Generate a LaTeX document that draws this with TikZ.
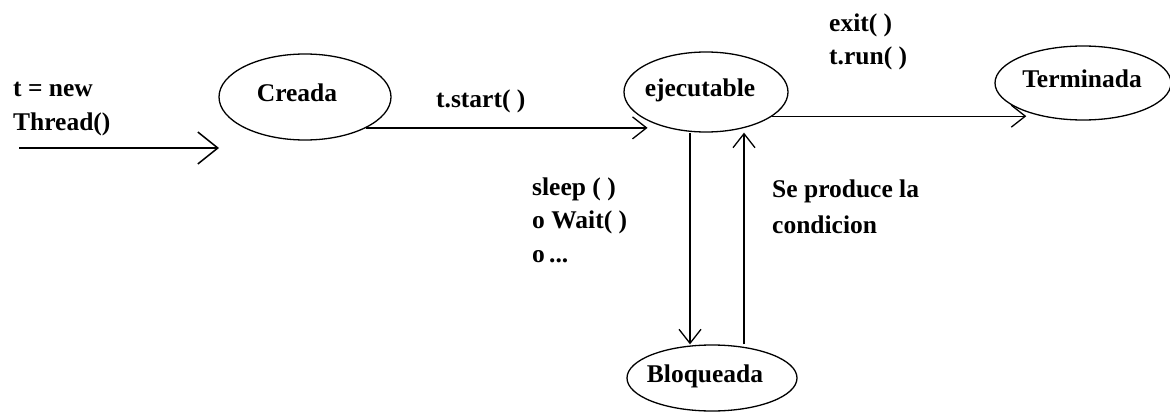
\documentclass[tikz,border=0pt]{standalone}
\usepackage{fontspec}
\setmainfont{Liberation Serif}
\usetikzlibrary{shapes.geometric,arrows.meta}
% state name set slightly left of the ellipse centre, without widening the ellipse
\newcommand\offcentre[2]{\makebox[0pt]{\hspace*{-#1}#2}}
\begin{document}
\begin{tikzpicture}[x=1pt,y=-1pt,
  txt/.style={font=\bfseries\fontsize{25.5}{33.5}\selectfont},
  state/.style={ellipse, draw, line width=1.3pt, inner sep=0pt, txt,
    text height=17pt, text depth=8pt},
  % the base anchor of a multi-line label sits on its last line
  lbl/.style={anchor=base west, align=left, inner sep=0pt, txt},
  arr/.style={line width=1.3pt,
    -{Straight Barb[length=14pt,width=22pt,line width=1.3pt]}}]
\useasboundingbox (0,0) rectangle (1170,412);

% states
\node[state, minimum width=172pt, minimum height=86pt] (creada)     at (305,97)  {\offcentre{16pt}{Creada}};
\node[state, minimum width=164pt, minimum height=80pt] (ejecutable) at (706,92)  {\offcentre{12pt}{ejecutable}};
\node[state, minimum width=176pt, minimum height=74pt] (terminada)  at (1083,83) {\offcentre{2pt}{Terminada}};
\node[state, minimum width=170pt, minimum height=66pt] (bloqueada)  at (712,378) {\offcentre{14pt}{Bloqueada}};

% thread creation
\coordinate (newstart) at (19,148);
\coordinate (newend)   at (219,148);
\draw[line width=2.6pt,
  -{Straight Barb[length=20pt,width=32pt,line width=1.5pt]}] (newstart) -- (newend);
\node[lbl] (newlbl) at (13,130) {t = new\\Thread()};

% creada -> ejecutable
\draw[arr] (creada.south east) -- (creada.south east -| ejecutable.south west);
\node[lbl] (startlbl) at (436,107) {t.start( )};

% ejecutable -> terminada
\draw[arr] (ejecutable.-20) -- ([xshift=6pt]ejecutable.-20 -| terminada.south west);
\node[lbl] (exitlbl) at (829,65) {exit( )\\t.run( )};

% ejecutable -> bloqueada
\draw[arr] ([xshift=-16pt]ejecutable.south) -- ([xshift=-16pt]ejecutable.south |- bloqueada.north);
\node[lbl] (sleeplbl) at (532,262) {sleep ( )\\o Wait( )\\o\,...};

% bloqueada -> ejecutable
\draw[arr] ([xshift=38pt]ejecutable.south |- bloqueada.north) -- ([xshift=38pt]ejecutable.south);
\node[lbl, font=\bfseries\fontsize{25.5}{36}\selectfont] (condlbl) at (772,233) {Se produce la\\condicion};
\end{tikzpicture}
\end{document}
